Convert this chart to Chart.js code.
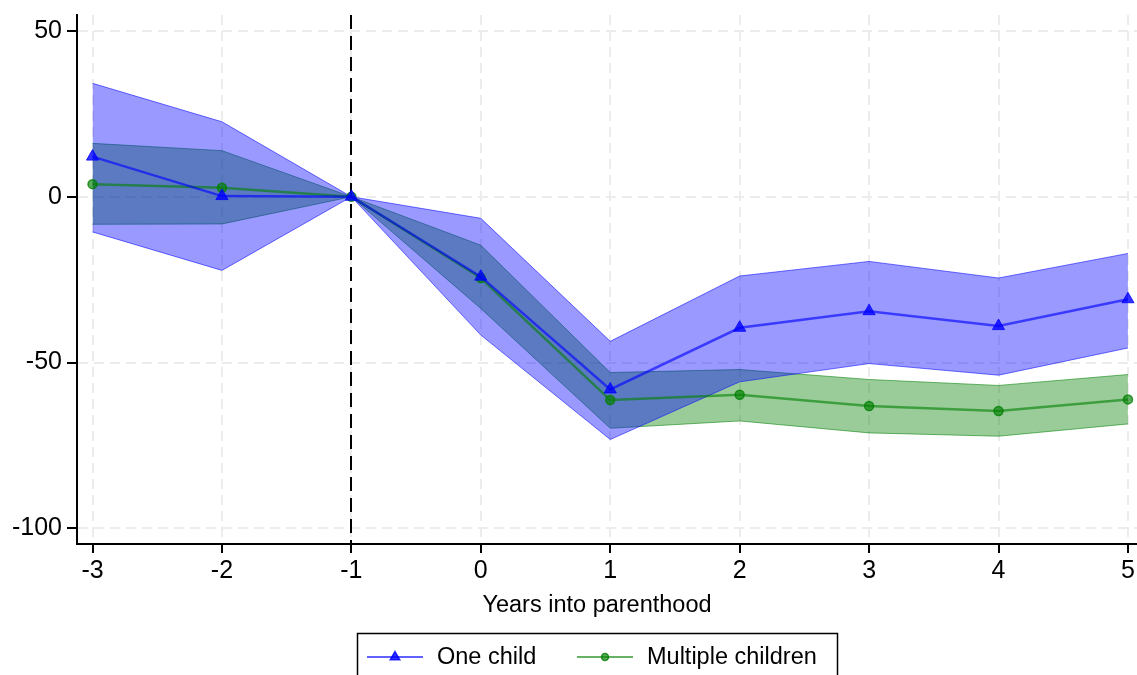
<!DOCTYPE html>
<html>
<head>
<meta charset="utf-8">
<title>Years into parenthood</title>
<script src="https://cdn.jsdelivr.net/npm/chart.js@4/dist/chart.umd.min.js"></script>
<style>
  html, body { margin: 0; padding: 0; background: #ffffff; }
  #wrap { width: 1137px; height: 675px; }
</style>
</head>
<body>
<div id="wrap"><canvas id="c" width="1137" height="675"></canvas></div>
<script>
// Event-study estimates by years relative to the first birth
const years = [-3, -2, -1, 0, 1, 2, 3, 4, 5];

const oneChild   = [12.1,  0.2, 0, -24.1, -58.1, -39.5, -34.5, -39.0, -30.9];
const oneChildHi = [34.2, 22.6, 0,  -6.5, -43.6, -23.9, -19.5, -24.5, -17.1];
const oneChildLo = [-10.6, -22.2, 0, -41.7, -73.2, -55.8, -50.3, -53.8, -45.6];

const multi   = [3.8,  2.7, 0, -24.5, -61.3, -59.7, -63.1, -64.6, -61.1];
const multiHi = [16.1, 13.9, 0, -14.6, -53.0, -52.1, -55.1, -56.9, -53.6];
const multiLo = [-8.3, -8.2, 0, -33.7, -69.8, -67.6, -71.2, -72.2, -68.5];

const xTicks = [-3, -2, -1, 0, 1, 2, 3, 4, 5];
const yTicks = [-100, -50, 0, 50];
const refYear = -1;
const xTitle = 'Years into parenthood';
const seriesNames = ['One child', 'Multiple children'];

const FONT = '"Liberation Sans", Arial, Helvetica, sans-serif';
const TICK_FS = 25;
const TEXT_FS = 23.5;

const pts = ys => years.map((x, i) => ({ x: x, y: ys[i] }));

const BLUE_LINE = 'rgba(0,0,255,0.62)';
const BLUE_MARK = 'rgba(0,0,255,0.8)';
const BLUE_FILL = 'rgba(0,0,255,0.4)';
const BLUE_EDGE = 'rgba(0,0,255,0.55)';
const GREEN_LINE = 'rgba(0,128,0,0.6)';
const GREEN_MARK = 'rgba(0,128,0,0.65)';
const GREEN_FILL = 'rgba(0,128,0,0.4)';
const GREEN_EDGE = 'rgba(0,128,0,0.55)';

// Dashed reference line at the year before the birth
const refLine = {
  id: 'refLine',
  beforeDatasetsDraw(chart) {
    const { ctx, chartArea } = chart;
    const x = Math.round(chart.scales.x.getPixelForValue(refYear));
    ctx.save();
    ctx.strokeStyle = '#000';
    ctx.lineWidth = 2;
    ctx.setLineDash([14, 7]);
    ctx.beginPath();
    ctx.moveTo(x, chartArea.top);
    ctx.lineTo(x, chartArea.bottom);
    ctx.stroke();
    ctx.restore();
  }
};

// Axis title and boxed legend under the plot
const bottomTexts = {
  id: 'bottomTexts',
  afterDraw(chart) {
    const ctx = chart.ctx;
    ctx.save();
    ctx.fillStyle = '#000';
    ctx.font = TEXT_FS + 'px ' + FONT;
    ctx.textAlign = 'center';
    ctx.textBaseline = 'alphabetic';
    ctx.fillText(xTitle, 597, 612);

    ctx.strokeStyle = '#000';
    ctx.lineWidth = 1.5;
    ctx.strokeRect(357.5, 633.5, 480, 60);

    const y = 657;
    const items = [
      { ds: chart.data.datasets[0], x: 367, r: 5.5 },
      { ds: chart.data.datasets[1], x: 577, r: 3.5 }
    ];
    items.forEach((it, k) => {
      ctx.strokeStyle = it.ds.borderColor;
      ctx.lineWidth = 2;
      ctx.setLineDash([]);
      ctx.beginPath();
      ctx.moveTo(it.x, y);
      ctx.lineTo(it.x + 56, y);
      ctx.stroke();
      ctx.fillStyle = it.ds.pointBackgroundColor;
      ctx.strokeStyle = it.ds.pointBorderColor;
      ctx.lineWidth = 1.5;
      Chart.helpers.drawPoint(ctx, { pointStyle: it.ds.pointStyle, radius: it.r, rotation: 0, borderWidth: 1.5 }, it.x + 28, y);
      ctx.fillStyle = '#000';
      ctx.textAlign = 'left';
      ctx.textBaseline = 'middle';
      ctx.fillText(seriesNames[k], it.x + 70, y + 1);
    });
    ctx.restore();
  }
};

const edge = (data, color, fillTarget, fillColor, order) => ({
  data: pts(data),
  borderColor: color,
  borderWidth: 1,
  pointRadius: 0,
  fill: fillTarget === null ? false : { target: fillTarget },
  backgroundColor: fillColor,
  order: order,
  tension: 0
});

new Chart(document.getElementById('c'), {
  type: 'line',
  data: {
    datasets: [
      {
        label: seriesNames[0],
        data: pts(oneChild),
        borderColor: BLUE_LINE,
        borderWidth: 2.5,
        pointStyle: 'triangle',
        pointRadius: 7,
        pointBackgroundColor: BLUE_MARK,
        pointBorderColor: BLUE_MARK,
        pointBorderWidth: 1,
        fill: false,
        order: 0
      },
      {
        label: seriesNames[1],
        data: pts(multi),
        borderColor: GREEN_LINE,
        borderWidth: 2.5,
        pointStyle: 'circle',
        pointRadius: 4.5,
        pointBackgroundColor: GREEN_MARK,
        pointBorderColor: 'rgba(0,128,0,0.8)',
        pointBorderWidth: 1.5,
        fill: false,
        order: 1
      },
      edge(oneChildHi, BLUE_EDGE, 3, BLUE_FILL, 2),
      edge(oneChildLo, BLUE_EDGE, null, BLUE_FILL, 3),
      edge(multiHi, GREEN_EDGE, 5, GREEN_FILL, 4),
      edge(multiLo, GREEN_EDGE, null, GREEN_FILL, 5)
    ]
  },
  options: {
    responsive: false,
    animation: false,
    devicePixelRatio: 1,
    layout: { autoPadding: false, padding: { top: 15, left: 0, right: 0, bottom: 0 } },
    plugins: {
      legend: { display: false },
      tooltip: { enabled: false },
      filler: { drawTime: 'beforeDatasetDraw', propagate: false }
    },
    scales: {
      x: {
        type: 'linear',
        min: -3.12,
        max: 5.07,
        afterBuildTicks: s => { s.ticks = xTicks.map(v => ({ value: v })); },
        afterFit: s => { s.height = 131; s.paddingLeft = 0; s.paddingRight = 0; },
        grid: { color: '#ececec', lineWidth: 2, tickLength: 9, tickColor: '#000', tickWidth: 2 },
        border: { display: true, color: '#000', width: 2, dash: [10, 6] },
        ticks: {
          color: '#000', font: { family: FONT, size: TICK_FS }, padding: 3,
          maxRotation: 0, autoSkip: false, callback: v => String(v)
        }
      },
      y: {
        type: 'linear',
        min: -104.7,
        max: 54.8,
        afterBuildTicks: s => { s.ticks = yTicks.map(v => ({ value: v })); },
        afterFit: s => { s.width = 77; s.paddingTop = 0; s.paddingBottom = 0; },
        grid: { color: '#ececec', lineWidth: 2, tickLength: 10, tickColor: '#000', tickWidth: 2 },
        border: { display: true, color: '#000', width: 2, dash: [10, 6] },
        ticks: {
          color: '#000', font: { family: FONT, size: TICK_FS }, padding: 5,
          callback: v => String(v)
        }
      }
    }
  },
  plugins: [refLine, bottomTexts]
});
</script>
</body>
</html>
